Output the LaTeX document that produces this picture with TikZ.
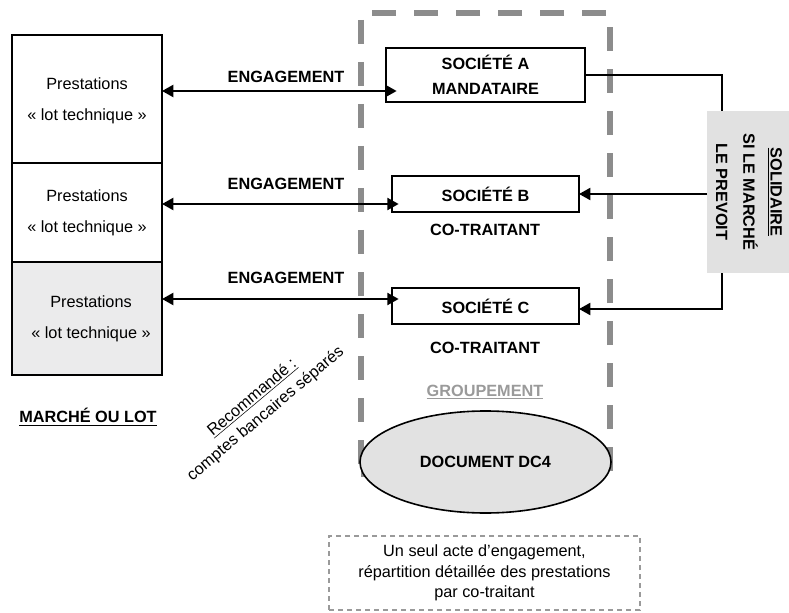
\documentclass[tikz,border=0pt]{standalone}
\usepackage{fontspec}
\setmainfont{Liberation Sans}
\usetikzlibrary{arrows.meta,shapes.geometric}
\definecolor{grpgray}{HTML}{8C8C8C}
\definecolor{notegray}{HTML}{9A9A9A}
\definecolor{lightfill}{HTML}{EBEBEC}
\definecolor{solfill}{HTML}{E1E1E1}
\definecolor{ellfill}{HTML}{E2E2E2}
\begin{document}
\begin{tikzpicture}[x=0.75pt,y=-0.75pt,
  every node/.style={font=\fontsize{12.2}{15}\selectfont, inner sep=0pt, outer sep=0pt},
  sz/.style 2 args={minimum width={#1*0.75pt}, minimum height={#2*0.75pt}},
  lotbox/.style={draw, line width=1.5pt},
  lottext/.style={align=center, font=\fontsize{12.2}{23}\selectfont},
  socbox/.style={draw, line width=1.5pt, align=center, font=\bfseries\fontsize{12.2}{18.75}\selectfont},
  boldlabel/.style={font=\bfseries\fontsize{12.2}{15}\selectfont},
  eng/.style={{Triangle[length=8.5pt,width=9pt]}-{Triangle[length=8.5pt,width=9pt]}, line width=1.6pt},
  link/.style={-{Triangle[length=8.5pt,width=9pt]}, line width=1.5pt},
  thinlink/.style={line width=0.9pt},
  grp/.style={draw=grpgray, line width=5pt, dash pattern=on 18pt off 13.5pt},
  note/.style={draw=notegray, line width=1.1pt, dash pattern=on 3.75pt off 3pt}
]
\useasboundingbox (0,0) rectangle (789,613);

% Lots of the market
\node[lotbox, sz={150}{128}] (L1) at (87,99) {};
\node[lotbox, sz={150}{99}] (L2) at (87,212.5) {};
\node[lotbox, sz={150}{113}, fill=lightfill] (L3) at (87,318.5) {};
\node[lottext] (L1t) at ([yshift=-1.5pt]L1.center) {Prestations\\« lot technique »};
\node[lottext] (L2t) at (L2.center) {Prestations\\« lot technique »};
\node[lottext] (L3t) at ([xshift=3pt]L3.center) {Prestations\\« lot technique »};
\node[boldlabel] (marche) at (88,417) {\underline{MARCHÉ OU LOT}};

% Grouping frame
\node[grp, sz={249}{461}] (G) at (485.5,243.5) {};

% Companies
\node[socbox, sz={199}{54}, fill=white] (A) at (485.5,75) {SOCIÉTÉ A\\MANDATAIRE};
\node[socbox, sz={187}{36}, fill=white] (B) at (485.5,194) {SOCIÉTÉ B};
\node[socbox, sz={187}{36}, fill=white] (C) at (485.5,306) {SOCIÉTÉ C};
\node[boldlabel] (cotB) at (485,230) {CO-TRAITANT};
\node[boldlabel] (cotC) at (485,348) {CO-TRAITANT};
\node[boldlabel, text=notegray] (grpl) at (485,392) {\underline{GROUPEMENT}};

% DC4 form
\node[ellipse, draw, line width=1.2pt, fill=ellfill, sz={251}{102}, boldlabel] (E) at (485.5,462) {DOCUMENT DC4};

% Commitments
\node[boldlabel] (e1) at (286,77) {ENGAGEMENT};
\node[boldlabel] (e2) at (286,184) {ENGAGEMENT};
\node[boldlabel] (e3) at (286,278) {ENGAGEMENT};
\draw[eng, shorten >=-8pt] (L1.east |- 0,91) -- (A.west |- 0,91);
\draw[eng, shorten >=-5pt] (L2.east |- 0,204) -- (B.west |- 0,204);
\draw[eng, shorten >=-5pt] (L3.east |- 0,299) -- (C.west |- 0,299);

% Joint liability
\node[fill=solfill, sz={82}{162}] (S) at (748,192) {};
\node[rotate=-90, align=center, font=\bfseries\fontsize{12.2}{20.5}\selectfont] (St) at (749,192) {\underline{SOLIDAIRE}\\SI LE MARCHÉ\\LE PREVOIT};
\coordinate (bus) at (722,0);
\draw[thinlink] (A.east) -| (S.north -| bus);
\draw[link] (S.west |- B.east) -- (B.east);
\draw[link] (S.south -| bus) |- ([yshift=-3*0.75pt]C.east);

% Bank accounts remark
\node[rotate=40, align=center, font=\fontsize{12.2}{15.75}\selectfont] (rec) at (259,406) {\underline{Recommandé :}\\comptes bancaires séparés};

% Single commitment note
\node[note, sz={311}{74}, align=center, font=\fontsize{12.2}{15.4}\selectfont] (N) at (484.5,573) {Un seul acte d’engagement,\\répartition détaillée des prestations\\par co-traitant};
\end{tikzpicture}
\end{document}
